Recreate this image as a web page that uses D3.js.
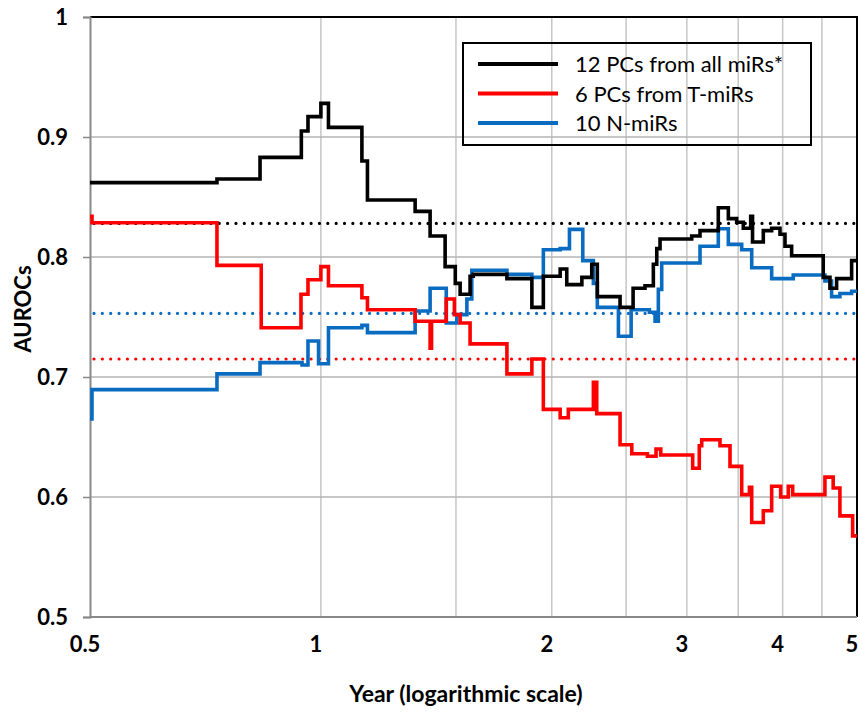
<!DOCTYPE html>
<html>
<head>
<meta charset="utf-8">
<script src="https://cdn.jsdelivr.net/npm/d3@7"></script>
<style>
  body { margin: 0; background: #fff; }
  text { font-family: Lato, "Open Sans", sans-serif; }
</style>
</head>
<body>
<script>
// step data: [year, AUROC] - value holds from that year until the next point
var allMirs = [
  [0.5, 0.862], [0.732, 0.865], [0.833, 0.883], [0.943, 0.905], [0.962, 0.917],
  [1.0, 0.928], [1.023, 0.908], [1.131, 0.880], [1.150, 0.8475], [1.327, 0.838],
  [1.388, 0.8175], [1.452, 0.792], [1.497, 0.778], [1.519, 0.769], [1.565, 0.784],
  [1.580, 0.7855], [1.748, 0.782], [1.884, 0.758], [1.950, 0.784], [2.051, 0.790],
  [2.092, 0.777], [2.189, 0.783], [2.255, 0.794], [2.293, 0.767], [2.455, 0.758],
  [2.553, 0.774], [2.646, 0.776], [2.713, 0.794], [2.741, 0.807], [2.768, 0.815],
  [3.044, 0.8175], [3.121, 0.822], [3.297, 0.841], [3.398, 0.832], [3.484, 0.829],
  [3.554, 0.824], [3.634, 0.834], [3.654, 0.8125], [3.774, 0.822], [3.870, 0.824],
  [3.968, 0.819], [4.028, 0.809], [4.109, 0.801], [4.518, 0.783], [4.610, 0.774],
  [4.703, 0.782], [4.920, 0.797]
]

var tMirs = [
  [0.5, 0.834], [0.503, 0.8286], [0.732, 0.793], [0.836, 0.741], [0.942, 0.769],
  [0.962, 0.781], [1.0, 0.792], [1.023, 0.776], [1.131, 0.766], [1.150, 0.756],
  [1.327, 0.7465], [1.388, 0.724], [1.394, 0.7465], [1.457, 0.765], [1.493, 0.752],
  [1.519, 0.745], [1.565, 0.7276], [1.748, 0.7026], [1.884, 0.715], [1.950, 0.673],
  [2.051, 0.666], [2.102, 0.673], [2.266, 0.6956], [2.289, 0.6695], [2.455, 0.6436],
  [2.543, 0.636], [2.665, 0.634], [2.735, 0.640], [2.774, 0.635], [3.053, 0.624],
  [3.114, 0.6427], [3.137, 0.6477], [3.314, 0.6427], [3.415, 0.6255], [3.537, 0.602],
  [3.62, 0.608], [3.645, 0.5787], [3.774, 0.5885], [3.870, 0.609], [3.976, 0.600],
  [4.068, 0.609], [4.122, 0.602], [4.541, 0.6166], [4.655, 0.6075], [4.750, 0.5843],
  [4.935, 0.5676]
]

var nMirs = [
  [0.5, 0.665], [0.503, 0.6895], [0.732, 0.7026], [0.833, 0.712], [0.945, 0.710],
  [0.962, 0.730], [0.993, 0.711], [1.023, 0.741], [1.131, 0.743], [1.150, 0.737],
  [1.327, 0.755], [1.388, 0.774], [1.457, 0.745], [1.504, 0.752], [1.550, 0.765],
  [1.573, 0.789], [1.748, 0.7855], [1.884, 0.783], [1.950, 0.806], [2.051, 0.807],
  [2.109, 0.823], [2.195, 0.797], [2.266, 0.778], [2.293, 0.758], [2.443, 0.734],
  [2.538, 0.756], [2.681, 0.754], [2.727, 0.7465], [2.754, 0.773], [2.782, 0.795],
  [3.121, 0.809], [3.297, 0.8236], [3.398, 0.8105], [3.537, 0.806], [3.645, 0.791],
  [3.870, 0.782], [4.129, 0.785], [4.541, 0.780], [4.633, 0.767], [4.750, 0.7696],
  [4.920, 0.7715]
]

// average AUROC reference lines (dotted)
var meanLines = [0.828, 0.715, 0.753]

var seriesNames = ["12 PCs from all miRs*", "6 PCs from T-miRs", "10 N-miRs"]
var seriesColors = ["#000000", "#ff0000", "#0a6cc0"]

var xTickLabels = [0.5, 1, 2, 3, 4, 5]
var xGrid = [1, 1.5, 2, 2.5, 3, 3.5, 4, 4.5]
var yTicks = [0.5, 0.6, 0.7, 0.8, 0.9, 1]

var svg = d3.select("body")
  .append("svg")
  .attr("width", 860)
  .attr("height", 712)

var x = d3.scaleLog().domain([0.5, 5]).range([90, 857])
var y = d3.scaleLinear().domain([0.5, 1]).range([617, 17])

// grid
svg.selectAll(".vgrid")
  .data(xGrid).enter()
  .append("line")
  .attr("x1", function(d) { return x(d) })
  .attr("x2", function(d) { return x(d) })
  .attr("y1", y(1)).attr("y2", y(0.5))
  .attr("stroke", "#c6c6c6")
  .attr("stroke-width", 1.5)

svg.selectAll(".hgrid")
  .data([0.6, 0.7, 0.8, 0.9]).enter()
  .append("line")
  .attr("x1", x(0.5)).attr("x2", x(5))
  .attr("y1", function(d) { return y(d) })
  .attr("y2", function(d) { return y(d) })
  .attr("stroke", "#b4b4b4")
  .attr("stroke-width", 1.5)

// plot frame: top and right black, left and bottom axis grey
svg.append("path")
  .attr("d", "M" + x(0.5) + "," + y(1) + "H" + x(5) + "V" + y(0.5))
  .attr("fill", "none")
  .attr("stroke", "#000")
  .attr("stroke-width", 2)

// y axis with ticks on the left
var yAxis = svg.append("g")
  .attr("transform", "translate(" + x(0.5) + ",0)")
  .call(d3.axisLeft(y).tickValues(yTicks).tickSize(7).tickFormat(d3.format("")))
yAxis.select(".domain").attr("stroke", "#888").attr("stroke-width", 2)
yAxis.selectAll(".tick line").attr("stroke", "#888").attr("stroke-width", 1.5)
yAxis.selectAll(".tick text")
  .attr("x", -22)
  .attr("dy", "0.35em")
  .attr("font-size", "22px")
  .attr("font-weight", "bold")
  .attr("fill", "#000")
  .style("font-family", "Lato, sans-serif")

// x axis: baseline and labels only
svg.append("line")
  .attr("x1", x(0.5)).attr("x2", x(5))
  .attr("y1", y(0.5)).attr("y2", y(0.5))
  .attr("stroke", "#888")
  .attr("stroke-width", 2)

svg.selectAll(".xlab")
  .data(xTickLabels).enter()
  .append("text")
  .attr("x", function(d) { return x(d) - 5 })
  .attr("y", 652)
  .attr("text-anchor", "middle")
  .attr("font-size", "22px")
  .attr("font-weight", "bold")
  .text(function(d) { return d })

// dotted mean lines
svg.selectAll(".mean")
  .data(meanLines).enter()
  .append("line")
  .attr("x1", x(0.5) + 4).attr("x2", x(5))
  .attr("y1", function(d) { return y(d) })
  .attr("y2", function(d) { return y(d) })
  .attr("stroke", function(d, i) { return seriesColors[i] })
  .attr("stroke-width", 3.2)
  .attr("stroke-linecap", "round")
  .attr("stroke-dasharray", "0 8.35")

// step lines
var line = d3.line()
  .x(function(d) { return x(d[0]) })
  .y(function(d) { return y(d[1]) })
  .curve(d3.curveStepAfter)

var series = [allMirs, tMirs, nMirs]
var order = [2, 1, 0]
order.forEach(function(i) {
  var pts = series[i].concat([[5, series[i][series[i].length - 1][1]]])
  svg.append("path")
    .attr("d", line(pts))
    .attr("fill", "none")
    .attr("stroke", seriesColors[i])
    .attr("stroke-width", 3.6)
    .attr("stroke-linejoin", "miter")
})

// legend (no fill, grid shows through)
var legend = svg.append("g")
legend.append("rect")
  .attr("x", 463).attr("y", 43)
  .attr("width", 348).attr("height", 102)
  .attr("fill", "none")
  .attr("stroke", "#000")
  .attr("stroke-width", 2)

seriesNames.forEach(function(name, i) {
  var ly = 64 + i * 29.5
  legend.append("line")
    .attr("x1", 478).attr("x2", 558)
    .attr("y1", ly).attr("y2", ly)
    .attr("stroke", seriesColors[i])
    .attr("stroke-width", 4)
  legend.append("text")
    .attr("x", 575)
    .attr("y", ly + 8)
    .attr("font-size", "22px")
    .text(name)
})

// axis titles
svg.append("text")
  .attr("x", 466)
  .attr("y", 702)
  .attr("text-anchor", "middle")
  .attr("font-size", "23px")
  .attr("font-weight", "bold")
  .text("Year (logarithmic scale)")

svg.append("text")
  .attr("transform", "translate(31,309) rotate(-90)")
  .attr("text-anchor", "middle")
  .attr("font-size", "22px")
  .attr("font-weight", "bold")
  .text("AUROCs")
</script>
</body>
</html>
